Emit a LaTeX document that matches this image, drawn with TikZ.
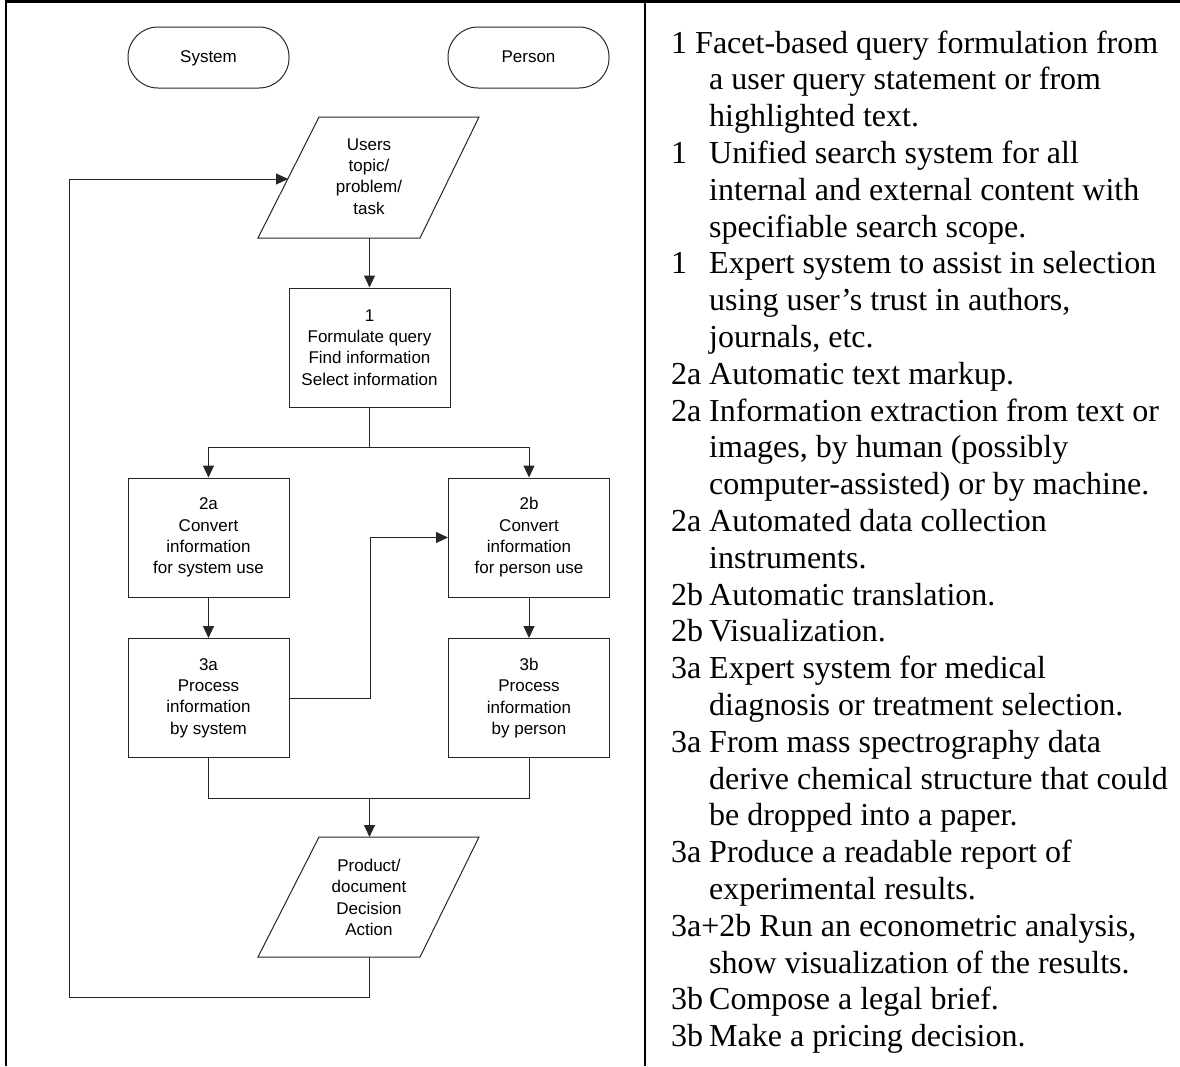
\documentclass[tikz,border=0pt]{standalone}
\usepackage{fontspec}
\setmainfont{Liberation Serif}
\newfontfamily\arialf{Liberation Sans}
\newcommand\myflowfont{\arialf\fontsize{17}{21.3}\selectfont}
\newcommand\myrightfont{\rmfamily\fontsize{32}{36.8}\selectfont}
\usetikzlibrary{arrows.meta}
\begin{document}
\begin{tikzpicture}[x=1pt,y=-1pt,
  fl/.style={draw=black!85, line width=1pt},
  arr/.style={fl, -{Triangle[length=12pt,width=11pt]}},
  box/.style={fl, rectangle, minimum width=161pt, minimum height=119pt, inner sep=0pt, align=center, font=\myflowfont},
  term/.style={fl, rectangle, rounded corners=30pt, minimum width=161pt, minimum height=61pt, inner sep=0pt, text height=12.5pt, text depth=3.5pt, font=\myflowfont},
  ptxt/.style={align=center, font=\myflowfont, inner sep=0pt},
  rtxt/.style={anchor=base west, inner sep=0pt, font=\myrightfont},
  frameline/.style={line width=2.5pt, black}]
\useasboundingbox (0,0) rectangle (1180,1066);
% table frame
\draw[frameline] (4.75,1.5) -- (1180,1.5);
\draw[frameline] (6,0) -- (6,1066);
\draw[frameline] (645,0) -- (645,1066);

% terminators
\node[term] (sys) at (208.5,57.5) {System};
\node[term] (per) at (528.5,57.5) {Person};

% users parallelogram
\draw[fl] (258,238) -- (319,117) -- (479,117) -- (420,238) -- cycle;
\node[ptxt] (users) at (369,176.5) {Users\\topic/\\problem/\\task};
\coordinate (usersbot) at (369.5,238);
\coordinate (usersleft) at (288,179);

% boxes
\node[box] (b1) at (369.5,347.5) {1\\Formulate query\\Find information\\Select information};
\node[box] (b2a) at (208.5,537.5) {2a\\Convert\\information\\for system use};
\node[box] (b2b) at (529,537.5) {2b\\Convert\\information\\for person use};
\node[box] (b3a) at (208.5,698) {3a\\Process\\information\\by system};
\node[box] (b3b) at (529,698) {3b\\Process\\information\\by person};

% product parallelogram
\draw[fl] (258,957) -- (319,837) -- (479,837) -- (420,957) -- cycle;
\node[ptxt] (prod) at (369,897.5) {Product/\\document\\Decision\\Action};
\coordinate (prodtop) at (369.5,837);
\coordinate (prodbot) at (369.5,957);
\coordinate (merge) at (369.5,798);

% connectors
\draw[arr] (usersbot) -- (b1);
\draw[arr] (b1.south) ++(0,40) -| (b2a);
\draw[fl] (b1.south) -- ++(0,40);
\draw[arr] (b1.south) ++(0,40) -| (b2b);
\draw[arr] (b2a) -- (b3a);
\draw[arr] (b2b) -- (b3b);
\draw[arr] (b3a.east) -- ++(80.5,0) |- (b2b.west);
\draw[fl] (b3a.south) |- (merge) -| (b3b.south);
\draw[arr] (merge) -- (prodtop);
\draw[arr] (prodbot) -- ++(0,40) -| (69,179) -- (usersleft);

% right column text
\foreach \lab/\yy in {1/4, 1/7, 2a/10, 2a/11, 2a/14, 2b/16, 2b/17, 3a/18, 3a/20, 3a/23, 3b/27, 3b/28}
  \node[rtxt] (lab\yy) at (671,{53+36.8*(\yy-1)}) {\lab};
\foreach \xx/\t [count=\n] in {
  671/{1 Facet-based query formulation from},
  709/{a user query statement or from},
  709/{highlighted text.},
  709/{Unified search system for all},
  709/{internal and external content with},
  709/{specifiable search scope.},
  709/{Expert system to assist in selection},
  709/{using user’s trust in authors,},
  709/{journals, etc.},
  709/{Automatic text markup.},
  709/{Information extraction from text or},
  709/{images, by human (possibly},
  709/{computer-assisted) or by machine.},
  709/{Automated data collection},
  709/{instruments.},
  709/{Automatic translation.},
  709/{Visualization.},
  709/{Expert system for medical},
  709/{diagnosis or treatment selection.},
  709/{From mass spectrography data},
  709/{derive chemical structure that could},
  709/{be dropped into a paper.},
  709/{Produce a readable report of},
  709/{experimental results.},
  671/{3a+2b Run an econometric analysis,},
  709/{show visualization of the results.},
  709/{Compose a legal brief.},
  709/{Make a pricing decision.}}
  \node[rtxt] (r\n) at (\xx,{53+36.8*(\n-1)}) {\t};
\end{tikzpicture}
\end{document}
